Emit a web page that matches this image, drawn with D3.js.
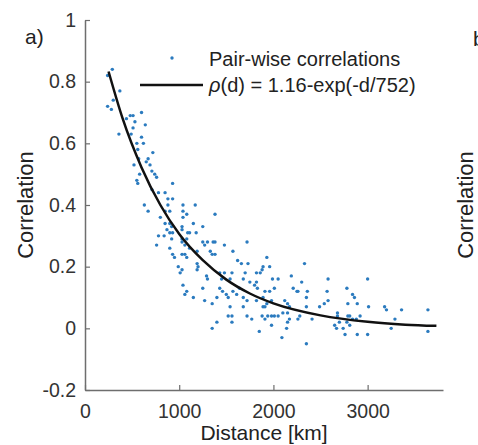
<!DOCTYPE html>
<html>
<head>
<meta charset="utf-8">
<script src="https://cdn.jsdelivr.net/npm/d3@7"></script>
<style>
  body { margin: 0; background: #fff; }
  svg text { font-family: "Liberation Sans", Arial, sans-serif; }
</style>
</head>
<body>
<div id="chart"></div>
<script>
// pair-wise correlations [distance km, correlation]
var nearPairs = [
  [290, 0.84], [240, 0.82], [370, 0.77], [300, 0.74], [240, 0.72], [280, 0.71],
  [480, 0.69], [510, 0.69], [600, 0.70], [440, 0.68], [530, 0.67], [640, 0.66],
  [510, 0.65], [360, 0.63], [490, 0.63], [600, 0.62], [550, 0.60], [620, 0.60],
  [560, 0.58], [720, 0.57], [670, 0.55], [650, 0.54], [520, 0.53], [690, 0.53],
  [710, 0.51], [580, 0.50], [570, 0.55], [740, 0.50]
]
var midPairs = [
  [550, 0.48], [560, 0.47], [760, 0.49], [930, 0.47], [710, 0.45], [780, 0.44],
  [850, 0.44], [880, 0.42], [930, 0.42], [630, 0.40], [670, 0.38], [880, 0.40],
  [1040, 0.40], [850, 0.38], [900, 0.38], [1040, 0.38], [1080, 0.37], [800, 0.36],
  [1040, 0.36], [850, 0.34], [900, 0.34], [920, 0.33], [1030, 0.33], [870, 0.32],
  [930, 0.31], [1030, 0.32], [780, 0.30], [840, 0.30], [900, 0.31], [1090, 0.31],
  [1080, 0.29], [1030, 0.29], [920, 0.29], [760, 0.27], [900, 0.26], [1030, 0.28],
  [1060, 0.27], [930, 0.24], [950, 0.23], [1030, 0.24], [1060, 0.24], [1080, 0.23],
  [990, 0.20], [1010, 0.18], [1030, 0.19], [1040, 0.14], [1080, 0.12], [1060, 0.11]
]
var centrePairs = [
  [1170, 0.40], [1380, 0.37], [1150, 0.34], [1250, 0.33], [1110, 0.31], [1180, 0.31],
  [1250, 0.28], [1270, 0.27], [1300, 0.28], [1360, 0.28], [1380, 0.28], [1480, 0.27],
  [1570, 0.25], [1720, 0.28], [1110, 0.26], [1190, 0.25], [1330, 0.25], [1350, 0.24],
  [1380, 0.24], [1190, 0.21], [1200, 0.20], [1190, 0.19], [1290, 0.17], [1300, 0.16],
  [1430, 0.18], [1480, 0.18], [1560, 0.18], [1620, 0.22], [1660, 0.21], [1730, 0.21],
  [1700, 0.18], [1820, 0.18], [1450, 0.16], [1540, 0.16], [1680, 0.16], [1750, 0.15],
  [1820, 0.15], [1250, 0.13], [1430, 0.13], [1460, 0.12], [1500, 0.11], [1570, 0.12],
  [1640, 0.13], [1520, 0.10], [1610, 0.11], [1680, 0.10], [1720, 0.09], [1150, 0.10],
  [1270, 0.09], [1350, 0.08], [1400, 0.10], [1820, 0.09], [1540, 0.07], [1520, 0.04],
  [1560, 0.04], [1680, 0.07], [1720, 0.04], [1770, 0.03], [1400, 0.02], [1560, 0.02],
  [1350, 0.00], [1850, -0.01]
]
var farPairs = [
  [1860, 0.18], [1880, 0.19], [1890, 0.20], [1930, 0.23], [1960, 0.20], [1910, 0.12],
  [1890, 0.10], [1890, 0.07], [1910, 0.07], [1930, 0.08], [1960, 0.12], [1990, 0.16],
  [2010, 0.13], [1980, 0.09], [1880, 0.04], [1910, 0.03], [1940, 0.04], [1980, 0.04],
  [2010, 0.04], [2050, 0.04], [2050, 0.16], [1980, 0.01], [2090, -0.03], [2120, 0.09],
  [2150, 0.08], [2170, 0.07], [2150, 0.05], [2190, 0.17], [2210, 0.13], [2250, 0.12],
  [2260, 0.12], [2170, 0.03], [2150, 0.02], [2300, 0.15], [2330, 0.21], [2350, 0.10],
  [2360, 0.12], [2350, 0.07], [2280, 0.04], [2260, 0.03], [2350, -0.05], [2410, 0.03],
  [2490, 0.07], [2540, 0.08], [2570, 0.12], [2580, 0.09], [2580, 0.16], [2680, 0.05],
  [2680, 0.04], [2650, 0.01], [2670, 0.00], [2700, 0.02], [2740, 0.00], [2780, 0.02],
  [2760, -0.02], [2780, 0.13], [2790, 0.08], [2790, 0.04], [2810, 0.04], [2840, 0.11],
  [2860, 0.10], [2810, 0.01], [2840, 0.03], [2890, -0.02], [2890, 0.08], [2880, 0.03],
  [2920, 0.04], [3000, 0.16], [3010, 0.07], [3000, -0.02], [3180, 0.07], [3200, 0.06],
  [3290, 0.03], [3250, 0.00], [3360, 0.06], [3640, 0.06], [3640, -0.01],
  [1800, 0.14], [1830, 0.13], [2100, 0.05], [2140, 0.00]
]

// fitted curve
var fitDist = [250, 400, 600, 800, 1000, 1250, 1500, 1750, 2000, 2500, 3000, 3400, 3730]
var fitCorr = [0.833, 0.680, 0.522, 0.400, 0.306, 0.221, 0.158, 0.113, 0.081, 0.042, 0.021, 0.012, 0.008]

var xTicks = [0, 1000, 2000, 3000]
var yTicks = [-0.2, 0, 0.2, 0.4, 0.6, 0.8, 1]

var width = 478
var height = 445
var margin = {top: 20, right: 35, bottom: 55, left: 85}

var svg = d3.select("#chart")
  .append("svg")
  .attr("width", width)
  .attr("height", height)

var x = d3.scaleLinear()
  .domain([0, 3800])
  .range([margin.left, width - margin.right])

var y = d3.scaleLinear()
  .domain([-0.2, 1])
  .range([height - margin.bottom, margin.top])

var axisColor = "#6e6e6e"
var textColor = "#333"

// axes, ticks pointing inward like matlab
var gx = svg.append("g")
  .attr("transform", "translate(0," + (height - margin.bottom) + ")")
  .call(d3.axisBottom(x).tickValues(xTicks).tickSizeInner(-5).tickSizeOuter(0).tickPadding(14)
    .tickFormat(function(d) { return String(d) }))

var gy = svg.append("g")
  .attr("transform", "translate(" + margin.left + ",0)")
  .call(d3.axisLeft(y).tickValues(yTicks).tickSizeInner(-5).tickSizeOuter(0).tickPadding(9)
    .tickFormat(function(d) { return String(d) }))

;[gx, gy].forEach(function(g) {
  g.select(".domain").attr("stroke", axisColor).attr("stroke-width", 1.5)
  g.selectAll(".tick line").attr("stroke", axisColor).attr("stroke-width", 1.2)
  g.selectAll(".tick text")
    .attr("fill", textColor)
    .style("font-size", "19.5px")
})

// scatter
var allPairs = nearPairs.concat(midPairs, centrePairs, farPairs)
svg.append("g")
  .selectAll("circle")
  .data(allPairs)
  .enter().append("circle")
    .attr("cx", function(d) { return x(d[0]) })
    .attr("cy", function(d) { return y(d[1]) })
    .attr("r", 1.7)
    .attr("fill", "#2b7bbf")

// fit line
var fit = fitDist.map(function(d, i) { return [d, fitCorr[i]] })
var line = d3.line()
  .x(function(d) { return x(d[0]) })
  .y(function(d) { return y(d[1]) })
  .curve(d3.curveMonotoneX)

svg.append("path")
  .datum(fit)
  .attr("fill", "none")
  .attr("stroke", "#111")
  .attr("stroke-width", 2.5)
  .attr("d", line)

// legend
var lg = svg.append("g")
lg.append("circle")
  .attr("cx", 172).attr("cy", 58).attr("r", 1.7)
  .attr("fill", "#2b7bbf")
lg.append("text")
  .attr("x", 209).attr("y", 66)
  .attr("fill", "#222")
  .style("font-size", "20px")
  .text("Pair-wise correlations")
lg.append("line")
  .attr("x1", 140).attr("x2", 203)
  .attr("y1", 85).attr("y2", 85)
  .attr("stroke", "#111").attr("stroke-width", 2.5)
var t2 = lg.append("text")
  .attr("x", 209).attr("y", 92)
  .attr("fill", "#222")
  .style("font-size", "20px")
t2.append("tspan").style("font-style", "italic").text("ρ")
t2.append("tspan").text("(d) = 1.16-exp(-d/752)")

// labels
svg.append("text")
  .attr("x", (x(0) + x(3800)) / 2).attr("y", 440)
  .attr("text-anchor", "middle")
  .attr("fill", "#222")
  .style("font-size", "21px")
  .text("Distance [km]")

svg.append("text")
  .attr("transform", "translate(33," + y(0.4) + ") rotate(-90)")
  .attr("text-anchor", "middle")
  .attr("fill", "#222")
  .style("font-size", "22px")
  .text("Correlation")

svg.append("text")
  .attr("x", 25).attr("y", 44)
  .attr("fill", "#222")
  .style("font-size", "21px")
  .text("a)")

// edge of the neighbouring panel b
svg.append("text")
  .attr("x", 473).attr("y", 46)
  .attr("fill", "#222")
  .style("font-size", "21px")
  .text("b")

svg.append("text")
  .attr("transform", "translate(473," + y(0.4) + ") rotate(-90)")
  .attr("text-anchor", "middle")
  .attr("fill", "#222")
  .style("font-size", "22px")
  .text("Correlation")
</script>
</body>
</html>
